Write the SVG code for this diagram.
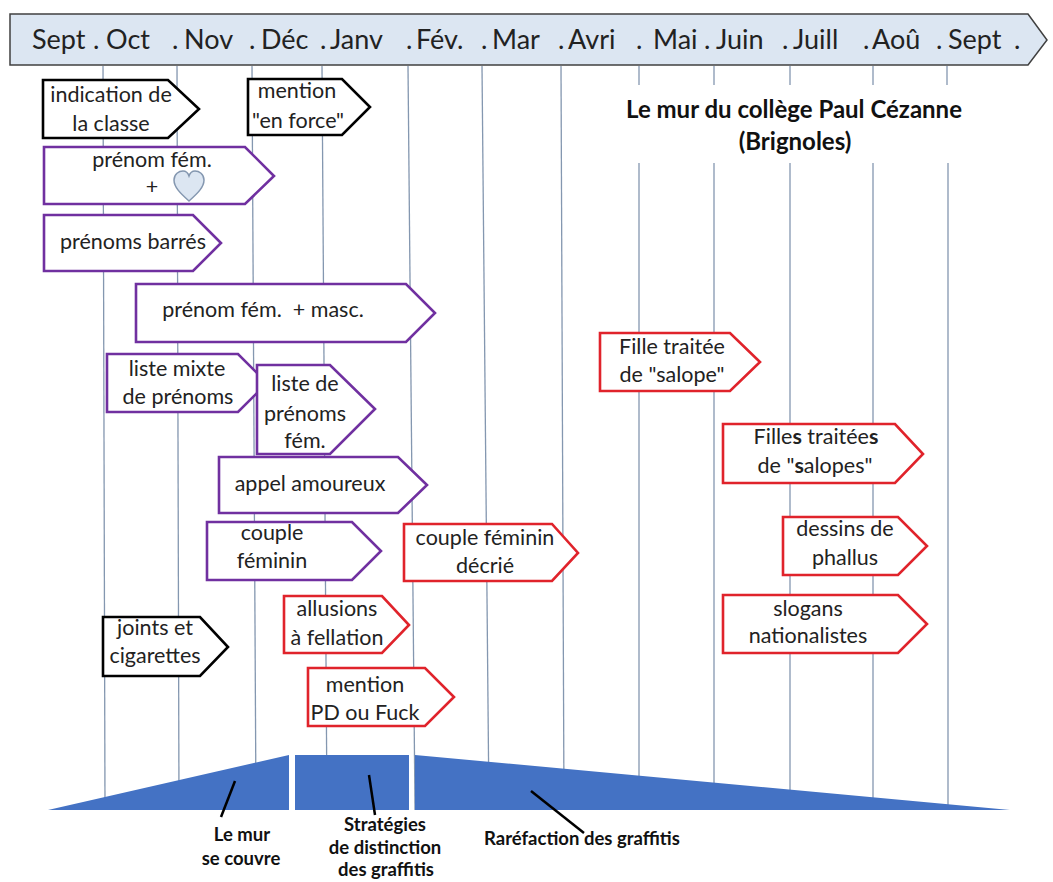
<svg xmlns="http://www.w3.org/2000/svg" width="1053" height="882" viewBox="0 0 1053 882">
<style>
.grid line{stroke:#8497b0;stroke-width:1.3}
.node path{fill:#fff;stroke-width:2.6;stroke-linejoin:miter}
.blk path{stroke:#000}
.pur path{stroke:#7030a0}
.red path{stroke:#e0232b}
.t{font-family:Lato,"Liberation Sans",sans-serif;font-size:21.5px;fill:#222;text-anchor:middle}
.hd{font-family:Lato,"Liberation Sans",sans-serif;font-size:27px;fill:#222}
.ttl{font-family:Lato,"Liberation Sans",sans-serif;font-size:24px;font-weight:bold;fill:#111;text-anchor:middle}
.lb{font-family:Lato,"Liberation Sans",sans-serif;font-size:18.5px;font-weight:bold;fill:#111;text-anchor:middle}
.wedge{fill:#4472c4}
.lead{stroke:#000;stroke-width:2.5}
</style>
<rect width="1053" height="882" fill="#fff"/>

<g id="grid" class="grid">
<line x1="103" y1="66" x2="105" y2="810"/>
<line x1="177" y1="66" x2="179" y2="810"/>
<line x1="252" y1="66" x2="256" y2="810"/>
<line x1="322" y1="66" x2="327" y2="810"/>
<line x1="408" y1="66" x2="415" y2="810"/>
<line x1="482" y1="66" x2="489" y2="810"/>
<line x1="561" y1="66" x2="564" y2="810"/>
<line x1="639" y1="66" x2="639" y2="85"/>
<line x1="714" y1="66" x2="714" y2="85"/>
<line x1="790" y1="66" x2="790" y2="85"/>
<line x1="873" y1="66" x2="873" y2="85"/>
<line x1="947" y1="66" x2="947" y2="85"/>
<line x1="639" y1="163" x2="639" y2="810"/>
<line x1="714" y1="163" x2="714" y2="810"/>
<line x1="790" y1="163" x2="790" y2="810"/>
<line x1="873" y1="163" x2="873" y2="810"/>
<line x1="948" y1="163" x2="948" y2="810"/>
</g>

<g id="timeline">
<path d="M10,14 L1028,14 L1047,40 L1028,65 L10,65 Z" fill="#dce6f2" stroke="#404040" stroke-width="1.5"/>
<text class="hd" y="49"><tspan x="32">Sept</tspan><tspan x="93">.</tspan><tspan x="106">Oct</tspan><tspan x="172">.</tspan><tspan x="184">Nov</tspan><tspan x="249">.</tspan><tspan x="261">Déc</tspan><tspan x="320">.</tspan><tspan x="330">Janv</tspan><tspan x="406">.</tspan><tspan x="416">Fév.</tspan><tspan x="481">.</tspan><tspan x="492">Mar</tspan><tspan x="558">.</tspan><tspan x="568">Avri</tspan><tspan x="636">.</tspan><tspan x="653">Mai</tspan><tspan x="704">.</tspan><tspan x="716">Juin</tspan><tspan x="782">.</tspan><tspan x="793">Juill</tspan><tspan x="863">.</tspan><tspan x="872">Aoû</tspan><tspan x="936">.</tspan><tspan x="948">Sept</tspan><tspan x="1014">.</tspan></text>
</g>

<g id="title">
<text class="ttl" x="794" y="118">Le mur du collège Paul Cézanne</text>
<text class="ttl" x="795" y="150">(Brignoles)</text>
</g>

<g id="n1" class="node blk"><path d="M43,80 L168,80 L199,109 L168,138 L43,138 Z"/>
<text class="t" x="111" y="102">indication de</text><text class="t" x="111" y="131">la classe</text></g>
<g id="n2" class="node blk"><path d="M248,79 L342,79 L370,107 L342,135 L248,135 Z"/>
<text class="t" x="297" y="98">mention</text><text class="t" x="298" y="128">"en force"</text></g>
<g id="n3" class="node pur"><path d="M44,147 L245,147 L274,176 L245,204 L44,204 Z"/>
<text class="t" x="152" y="167">prénom fém.</text><text class="t" x="152" y="194">+</text>
<path d="M189,201 C180,193 174,187 174,180 C174,174 179,171 183,171 C186,171 188,173 189,176 C190,173 192,171 195,171 C199,171 204,174 204,180 C204,187 198,193 189,201 Z" style="fill:#dce6f2;stroke:#8497b0;stroke-width:1.5"/></g>
<g id="n4" class="node pur"><path d="M44,215 L193,215 L221,243 L193,271 L44,271 Z"/>
<text class="t" x="133" y="249">prénoms barrés</text></g>
<g id="n5" class="node pur"><path d="M136,284 L406,284 L435,313 L406,342 L136,342 Z"/>
<text class="t" x="263" y="317" xml:space="preserve">prénom fém.  + masc.</text></g>
<g id="n6" class="node pur"><path d="M107,354 L238,354 L267,383 L238,412 L107,412 Z"/>
<text class="t" x="177" y="376">liste mixte</text><text class="t" x="178" y="404">de prénoms</text></g>
<g id="n7" class="node pur"><path d="M257,365 L330,365 L375,409 L330,454 L257,454 Z"/>
<text class="t" x="305" y="391">liste de</text><text class="t" x="305" y="421">prénoms</text><text class="t" x="305" y="448">fém.</text></g>
<g id="n8" class="node pur"><path d="M219,457 L398,457 L427,485 L398,513 L219,513 Z"/>
<text class="t" x="310" y="491">appel amoureux</text></g>
<g id="n9" class="node pur"><path d="M207,522 L352,522 L381,551 L352,580 L207,580 Z"/>
<text class="t" x="272" y="540">couple</text><text class="t" x="272" y="568">féminin</text></g>
<g id="n10" class="node red"><path d="M404,524 L552,524 L578,553 L552,581 L404,581 Z"/>
<text class="t" x="485" y="545">couple féminin</text><text class="t" x="485" y="573">décrié</text></g>
<g id="n11" class="node red"><path d="M284,596 L382,596 L409,625 L382,653 L284,653 Z"/>
<text class="t" x="337" y="616">allusions</text><text class="t" x="337" y="645">à fellation</text></g>
<g id="n12" class="node blk"><path d="M103,617 L200,617 L228,647 L200,676 L103,676 Z"/>
<text class="t" x="155" y="635">joints et</text><text class="t" x="155" y="663">cigarettes</text></g>
<g id="n13" class="node red"><path d="M308,668 L425,668 L454,697 L425,726 L308,726 Z"/>
<text class="t" x="365" y="692">mention</text><text class="t" x="365" y="720">PD ou Fuck</text></g>
<g id="n14" class="node red"><path d="M600,333 L730,333 L760,362 L730,391 L600,391 Z"/>
<text class="t" x="672" y="354">Fille traitée</text><text class="t" x="672" y="382">de "salope"</text></g>
<g id="n15" class="node red"><path d="M723,424 L895,424 L923,454 L895,483 L723,483 Z"/>
<text class="t" x="816" y="444">Fille<tspan font-weight="bold">s</tspan> traitée<tspan font-weight="bold">s</tspan></text><text class="t" x="815" y="473">de "<tspan font-weight="bold">s</tspan>alopes"</text></g>
<g id="n16" class="node red"><path d="M783,517 L898,517 L927,546 L898,575 L783,575 Z"/>
<text class="t" x="845" y="536">dessins de</text><text class="t" x="845" y="565">phallus</text></g>
<g id="n17" class="node red"><path d="M723,595 L898,595 L927,624 L898,653 L723,653 Z"/>
<text class="t" x="808" y="616">slogans</text><text class="t" x="808" y="643">nationalistes</text></g>

<g id="phases">
<path class="wedge" d="M48,810 L289,755 L289,810 Z"/>
<rect class="wedge" x="295" y="755" width="114" height="55"/>
<path class="wedge" d="M415,755 L1010,810 L415,810 Z"/>
</g>

<g id="connectors">
<line class="lead" x1="235" y1="781" x2="221" y2="817"/>
<line class="lead" x1="369" y1="775" x2="375" y2="815"/>
<line class="lead" x1="531" y1="791" x2="584" y2="833"/>
</g>

<g id="labels">
<text class="lb" x="242" y="841">Le mur</text><text class="lb" x="241" y="865">se couvre</text>
<text class="lb" x="385" y="831">Stratégies</text><text class="lb" x="385" y="854">de distinction</text><text class="lb" x="386" y="876">des graffitis</text>
<text class="lb" x="484" y="845" style="text-anchor:start">Raréfaction des graffitis</text>
</g>
</svg>
